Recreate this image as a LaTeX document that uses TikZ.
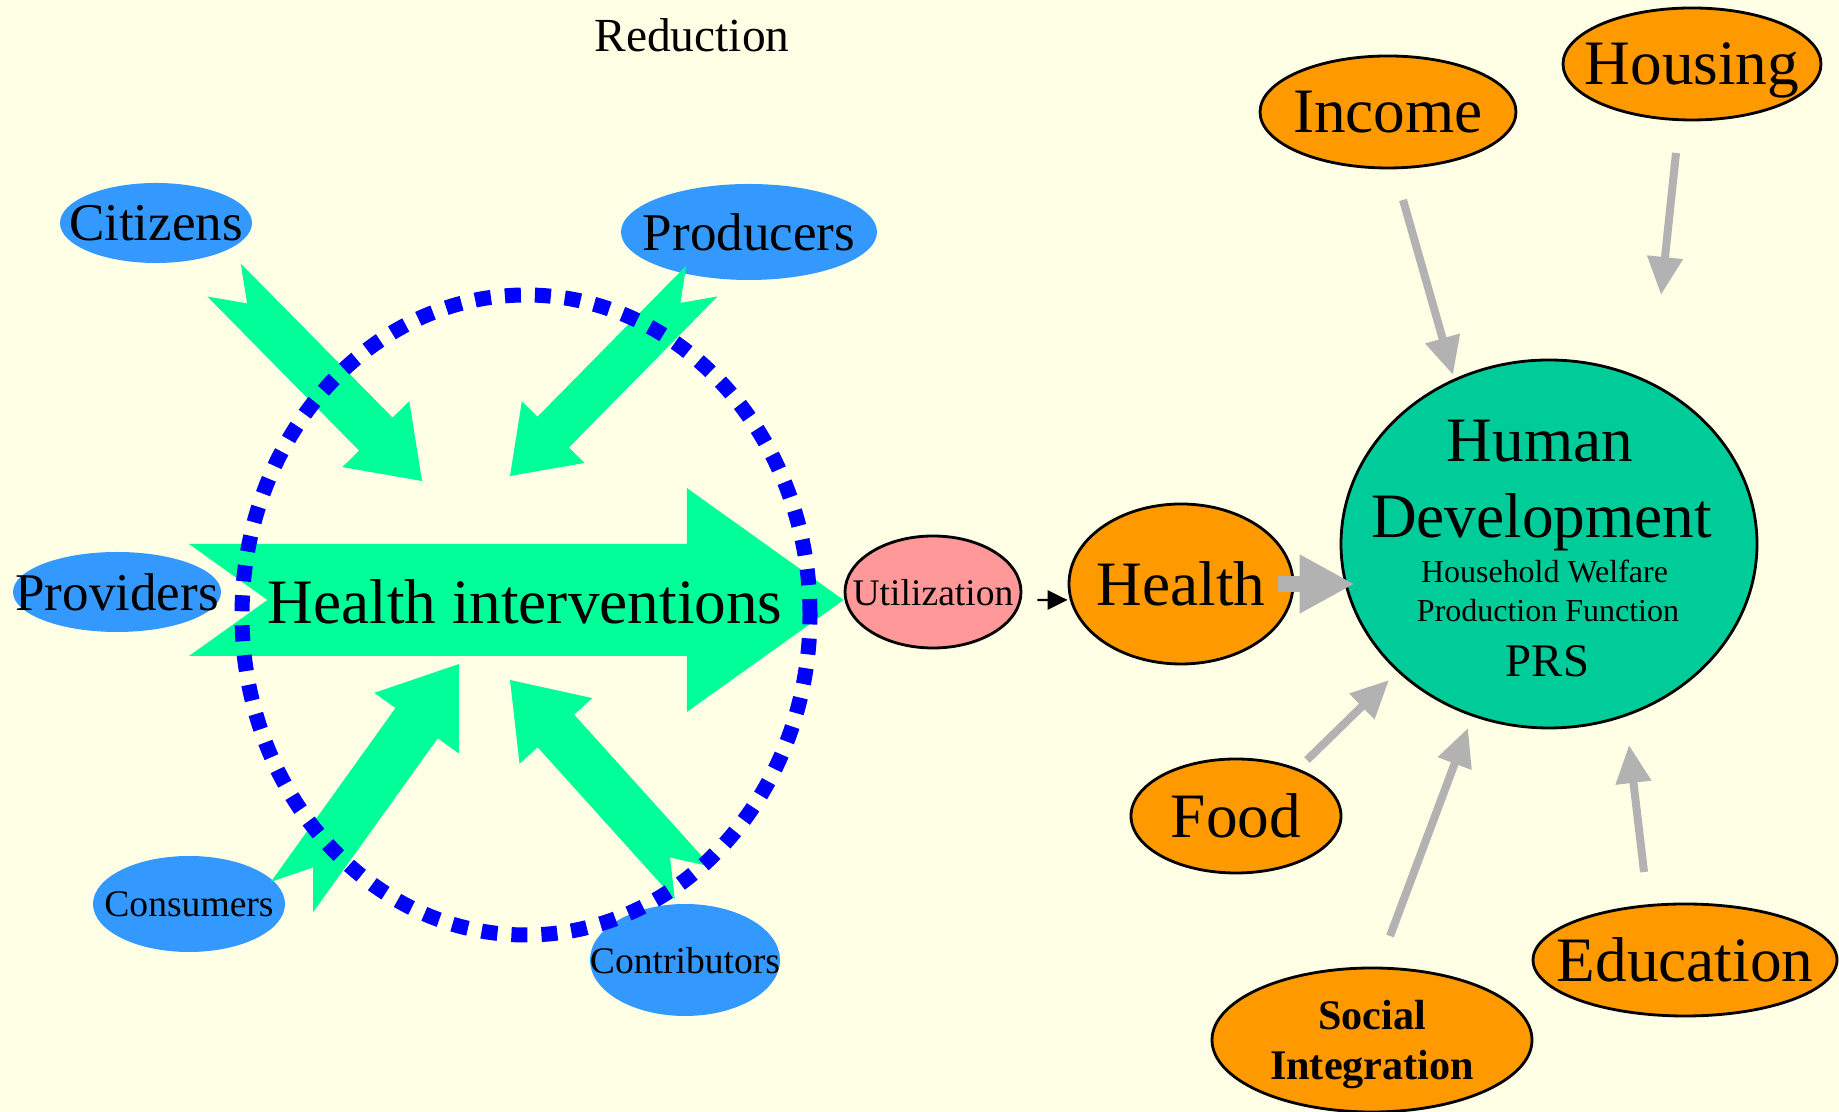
\documentclass[tikz,border=0pt]{standalone}
\usepackage{fontspec}
\setmainfont{Liberation Serif}
\usetikzlibrary{arrows.meta, shapes.geometric, calc}

\tikzset{
  bigtxt/.style={font=\fontsize{18}{21}\selectfont},
  midtxt/.style={font=\fontsize{15.1}{18}\selectfont},
  smalltxt/.style={font=\fontsize{10.7}{13}\selectfont},
  tinytxt/.style={font=\fontsize{9.1}{11}\selectfont},
  every label/.style={inner sep=0pt, text depth=0pt},
  actor/.style={ellipse, fill=skyblue, inner sep=0pt},
  factor/.style={ellipse, draw, line width=0.8pt, fill=amber, inner sep=0pt},
  feed/.style={draw=arrowgray, line width=0.08cm, -{Triangle[length=0.38cm, width=0.34cm]}},
}

% notched block arrow: tail, tip, half width of the shaft
\newcommand{\blockarrow}[3]{%
  \coordinate (hb) at ($(#2)!2.8*#3!(#1)$);
  \fill[springgreen] ($(#1)!#3!90:(#2)$) -- ($(hb)!#3!90:(#2)$) -- ($(hb)!2*#3!90:(#2)$)
    -- (#2) -- ($(hb)!2*#3!-90:(#2)$) -- ($(hb)!#3!-90:(#2)$) -- ($(#1)!#3!-90:(#2)$)
    -- ($(#1)!1.4*#3!(#2)$) -- cycle;}

\begin{document}
\begin{tikzpicture}

\definecolor{cream}{RGB}{255, 255, 229}
\definecolor{skyblue}{RGB}{51, 153, 255}
\definecolor{springgreen}{RGB}{0, 255, 153}
\definecolor{deepblue}{RGB}{0, 0, 255}
\definecolor{amber}{RGB}{255, 153, 0}
\definecolor{salmonpink}{RGB}{255, 153, 153}
\definecolor{seagreen}{RGB}{0, 204, 153}
\definecolor{arrowgray}{RGB}{178, 178, 178}

\useasboundingbox (0, 0) rectangle (18.39, 11.12);
\fill[cream] (0, 0) rectangle (18.39, 11.12);

\node[font=\fontsize{13.5}{16}\selectfont, anchor=base] (reduction) at (6.92, 10.60) {Reduction};

% Actors around the interventions
\node[actor, minimum width=1.92cm, minimum height=0.80cm, label={[midtxt]center:Citizens}] (citizens) at (1.56, 8.89) {};
\node[actor, minimum width=2.56cm, minimum height=0.96cm, label={[midtxt]center:Producers}] (producers) at (7.49, 8.80) {};
\node[actor, minimum width=2.08cm, minimum height=0.80cm, label={[midtxt]center:Providers}] (providers) at (1.17, 5.20) {};
\node[actor, minimum width=1.92cm, minimum height=0.96cm, label={[smalltxt]center:Consumers}] (consumers) at (1.89, 2.08) {};
\node[actor, minimum width=1.90cm, minimum height=1.12cm, label={[smalltxt]center:Contributors}] (contributors) at (6.85, 1.52) {};

\node[ellipse, draw, line width=0.8pt, fill=salmonpink, inner sep=0pt, minimum width=1.76cm, minimum height=1.12cm, label={[smalltxt]center:Utilization}] (util) at (9.33, 5.20) {};

% Green block arrows
\coordinate (citizensTail) at (2.24, 8.32);
\coordinate (citizensTip) at (4.22, 6.31);
\coordinate (producersTail) at (7.02, 8.31);
\coordinate (producersTip) at (5.10, 6.36);
\coordinate (consumersTail) at (2.92, 2.15);
\coordinate (consumersTip) at (4.59, 4.48);
\coordinate (contributorsTail) at (6.93, 2.29);
\coordinate (contributorsTip) at (5.10, 4.32);
\coordinate (hiTail) at (1.89, 5.12);
\coordinate (hiTip) at (util.west |- hiTail);

\blockarrow{citizensTail}{citizensTip}{0.235cm}
\blockarrow{producersTail}{producersTip}{0.22cm}
\blockarrow{consumersTail}{consumersTip}{0.26cm}
\blockarrow{contributorsTail}{contributorsTip}{0.245cm}
\blockarrow{hiTail}{hiTip}{0.56cm}

\node[bigtxt] (hi) at (5.25, 5.10) {Health interventions};

\node[draw=deepblue, line width=0.15cm, dash pattern=on 0.16cm off 0.14cm, ellipse, minimum width=5.68cm, minimum height=6.40cm] (ring) at (5.26, 4.97) {};

% Outcomes
\node[factor, minimum width=2.24cm, minimum height=1.60cm, label={[bigtxt]center:Health}] (health) at (11.81, 5.28) {};
\node[ellipse, draw, line width=0.8pt, fill=seagreen, minimum width=4.16cm, minimum height=3.68cm] (hd) at (15.49, 5.68) {};
\node[bigtxt, anchor=base] (hdHuman) at (15.40, 6.50) {Human};
\node[bigtxt, anchor=base] (hdDev) at (15.415, 5.74) {Development};
\node[tinytxt, anchor=base] (hdWelfare) at (15.445, 5.29) {Household Welfare};
\node[tinytxt, anchor=base] (hdFunction) at (15.48, 4.90) {Production Function};
\node[font=\fontsize{13.3}{16}\selectfont, anchor=base] (hdPRS) at (15.475, 4.35) {PRS};

\node[factor, minimum width=2.56cm, minimum height=1.12cm, label={[bigtxt]center:Income}] (income) at (13.88, 10.00) {};
\node[factor, minimum width=2.58cm, minimum height=1.12cm, label={[bigtxt]center:Housing}] (housing) at (16.92, 10.48) {};
\node[factor, minimum width=2.10cm, minimum height=1.14cm, label={[bigtxt]center:Food}] (food) at (12.36, 2.96) {};
\node[factor, minimum width=3.20cm, minimum height=1.44cm, label={[font=\fontsize{12}{14.2}\selectfont\bfseries, align=center]center:Social\\Integration}] (social) at (13.72, 0.72) {};
\node[factor, minimum width=3.04cm, minimum height=1.12cm, label={[bigtxt]center:Education}] (education) at (16.85, 1.52) {};

% Gray arrows into Human Development
\coordinate (incomeTail) at (14.03, 9.12);
\coordinate (incomeTip) at (14.53, 7.37);
\coordinate (housingTail) at (16.76, 9.59);
\coordinate (housingTip) at (16.61, 8.17);
\coordinate (foodTail) at (13.07, 3.52);
\coordinate (foodTip) at (13.89, 4.32);
\coordinate (socialTail) at (13.90, 1.76);
\coordinate (socialTip) at (14.68, 3.84);
\coordinate (educationTail) at (16.44, 2.40);
\coordinate (educationTip) at (16.29, 3.67);

\draw[feed] (incomeTail) -- (incomeTip);
\draw[feed] (housingTail) -- (housingTip);
\draw[feed] (foodTail) -- (foodTip);
\draw[feed] (socialTail) -- (socialTip);
\draw[feed] (educationTail) -- (educationTip);
\draw[draw=arrowgray, line width=0.16cm, -{Triangle[length=0.55cm, width=0.55cm]}, shorten <=-0.16cm, shorten >=-0.15cm] (health.east) -- (health.east -| hd.west);

\draw[line width=0.7pt, -{Triangle[length=0.2cm, width=0.19cm]}] ([shift={(0.15,-0.08)}]util.east) -- ([yshift=-0.16cm]health.west);

\end{tikzpicture}
\end{document}
